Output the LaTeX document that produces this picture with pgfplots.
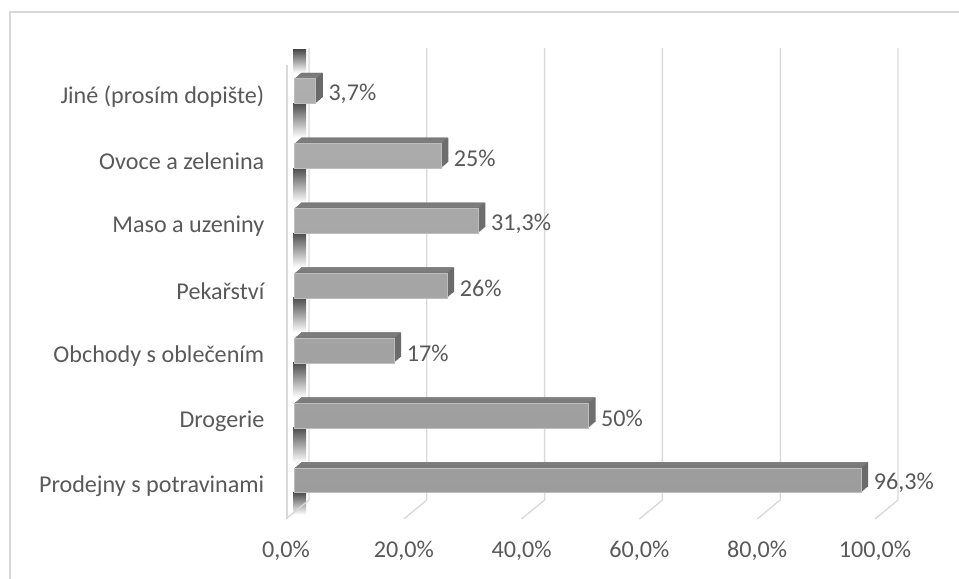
\documentclass[border=0pt]{standalone}
\usepackage{fontspec}
\setmainfont{Carlito}
\usepackage{pgfplots}
\pgfplotsset{compat=1.18}
\usepackage{pgfplotstable}

\definecolor{txt}{HTML}{595959}
\definecolor{gridc}{HTML}{D9D9D9}
\definecolor{topface}{HTML}{7F7F7F}
\definecolor{sideface}{HTML}{6A6A6A}
\definecolor{frontA}{HTML}{AEAEAE}
\definecolor{frontB}{HTML}{9C9C9C}
\definecolor{frontEdge}{HTML}{BEBEBE}
\definecolor{wallDark}{HTML}{4E4E4E}

% share of respondents per shop type (%)
\pgfplotstableread{
idx val
0 96.3
1 50
2 17
3 26
4 31.3
5 25
6 3.7
}\shops

\newcommand\lblfont{\fontsize{18.1}{21}\selectfont}

\begin{document}
\begin{tikzpicture}[x=0.75pt,y=0.75pt]
\path[use as bounding box] (0,0) rectangle (959,578);

% chart frame
\draw[gridc, line width=1pt] (10,-5) -- (10,566) -- (970,566);

% side wall shading between the bars
\foreach \i in {0,...,6}{
  \pgfmathsetmacro\c{480.5-64.92*\i}
  \pgfmathsetmacro\ya{578-(\c+12.25)}
  \pgfmathsetmacro\yb{578-(\c+(\i==0 ? 34 : 46.67))}
  \shade[top color=wallDark, middle color=gray!60, bottom color=white]
    (293,\ya) rectangle (306,\yb);
}
\shade[top color=wallDark, middle color=gray!60, bottom color=white]
  (293,528) rectangle (306,{578-72.75});

% back wall gridlines and floor edges
\foreach \v in {0,20,...,100}{
  \draw[gridc, line width=1pt, line join=round]
    ({309+5.89*\v},530) -- ({309+5.89*\v},78) -- ({286+5.89*\v},59);
}
% front edge of the side wall
\draw[gridc, line width=1pt] (287,513) -- (287,59);

\begin{axis}[
  at={(220.5pt,73.125pt)}, anchor=south west,
  scale only axis, width=441.75pt, height=292.1pt,
  xmin=0, xmax=100, ymin=0, ymax=6,
  clip=false,
  axis line style={draw=none},
  major tick style={draw=none},
  xtick={0,20,...,100},
  ytick={0,...,6},
  yticklabels={Prodejny s potravinami, Drogerie, Obchody s oblečením,
    Pekařství, Maso a uzeniny, Ovoce a zelenina, Jiné (prosím dopište)},
  xticklabel={\pgfmathprintnumber[fixed,fixed zerofill,precision=1,use comma,assume math mode=true]{\tick}\%},
  tick label style={font=\lblfont, text=txt},
  xticklabel style={anchor=center, xshift=-6pt, yshift=-53pt},
  yticklabel style={anchor=east, xshift=-18.75pt, yshift=-4pt},
]

% depth of the bars: stacked offset copies, back to front
\pgfplotsinvokeforeach{7,6,...,1}{
  \addplot[xbar, bar width=18.4pt, fill=sideface, draw=none,
    xshift=#1*0.75pt, yshift=#1*0.643pt]
    table[x=val, y=idx]{\shops};
  \addplot[xbar, bar width=18.4pt, fill=topface, draw=none,
    xshift=#1*0.75pt, yshift=#1*0.643pt]
    table[x expr=\thisrow{val}-0.17, y=idx]{\shops};
}

% front faces
\addplot[xbar, bar width=18.4pt, draw=frontEdge, line width=0.5pt,
  top color=frontA, bottom color=frontB]
  table[x=val, y=idx]{\shops};

% value labels
\addplot[xbar, bar width=18.4pt, draw=none, fill=none,
  point meta=x,
  nodes near coords={\pgfmathprintnumber[use comma,assume math mode=true]{\pgfplotspointmeta}\%},
  nodes near coords style={font=\lblfont, text=txt, anchor=west,
    xshift=6pt, yshift=-2pt}]
  table[x=val, y=idx]{\shops};

\end{axis}
\end{tikzpicture}
\end{document}
